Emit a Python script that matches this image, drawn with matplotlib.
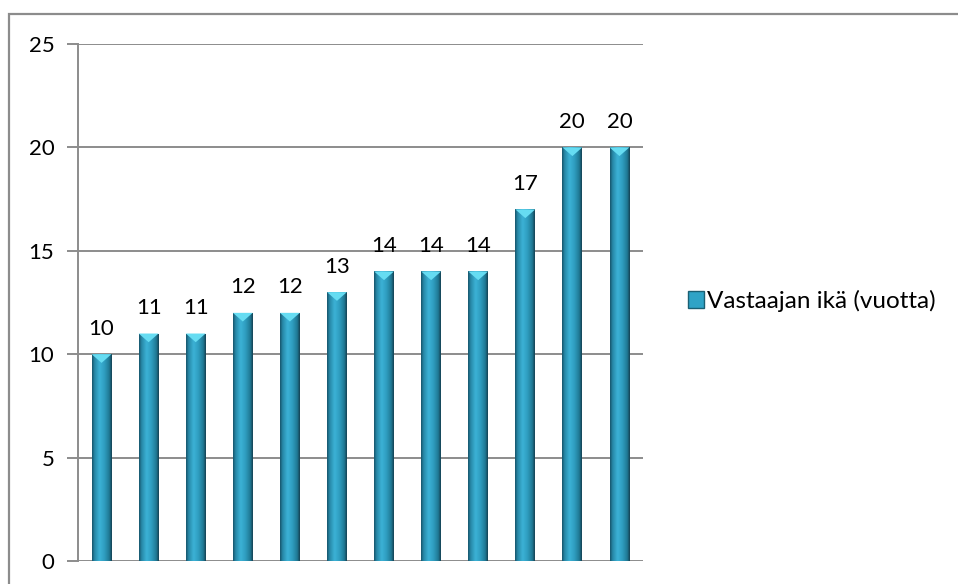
import numpy as np
import matplotlib
matplotlib.use("Agg")
import matplotlib.pyplot as plt
from matplotlib.colors import LinearSegmentedColormap
from matplotlib.patches import Polygon, Patch, Rectangle

# respondents' ages, sorted
categories = [str(i) for i in range(1, 13)]
ages = [10, 11, 11, 12, 12, 13, 14, 14, 14, 17, 20, 20]
series_name = "Vastaajan ikä (vuotta)"
yticks = [0, 5, 10, 15, 20, 25]

plt.rcParams["font.family"] = ["Lato", "DejaVu Sans"]

fig = plt.figure(figsize=(9.58, 5.84), dpi=100)
fig.patch.set_facecolor("white")

# chart-area frame, runs off the right and bottom edges
fig.add_artist(Rectangle((9 / 958, -0.1), 1.2, 1 - 14 / 584 + 0.1,
                         transform=fig.transFigure, fill=False,
                         edgecolor="#8c8c8c", linewidth=1.6))

ax = fig.add_axes([78 / 958, 1 - 561 / 584, (643 - 78) / 958, (561 - 44) / 584])
ax.set_xlim(-0.5, len(ages) - 0.5)
ax.set_ylim(0, 25)

grid = "#8c8c8c"
for v in yticks:
    ax.axhline(v, color=grid, linewidth=1.4, zorder=1)

ax.set_yticks(yticks)
ax.set_xticks([])
for s in ("top", "right", "bottom"):
    ax.spines[s].set_visible(False)
ax.spines["left"].set_color(grid)
ax.spines["left"].set_linewidth(1.4)
ax.tick_params(axis="y", length=8, width=1.4, color=grid, labelsize=16, pad=9)

# horizontal shading for the cylinder-like bars
shade = LinearSegmentedColormap.from_list("bar", [
    (0.0, "#17536a"), (0.12, "#2687a6"), (0.38, "#3cb2d6"),
    (0.62, "#2f9ec1"), (0.88, "#1f7893"), (1.0, "#143f50")])
grad = np.linspace(0, 1, 64).reshape(1, -1)

width = 0.42
x = np.arange(len(ages))
bars = ax.bar(x, ages, width=width, color="#2b98ba", edgecolor="none", zorder=2)
for rect, h in zip(bars, ages):
    x0 = rect.get_x()
    x1 = x0 + rect.get_width()
    im = ax.imshow(grad, cmap=shade, extent=(x0, x1, 0, h), aspect="auto",
                   zorder=3, interpolation="bicubic")
    im.set_clip_path(rect)
    # light bevel at the top of each bar
    tri = Polygon([(x0, h), (x1, h), ((x0 + x1) / 2, h - 0.42)],
                  closed=True, facecolor="#66dcf2", edgecolor="none", zorder=4)
    ax.add_patch(tri)
    ax.text((x0 + x1) / 2, h + 0.75, str(h), ha="center", va="bottom",
            fontsize=16, color="black", zorder=5)

ax.set_xlim(-0.5, len(ages) - 0.5)
ax.set_ylim(0, 25)

handle = Patch(facecolor="#2fa3c6", edgecolor="#1a5f73", linewidth=1)
fig.legend([handle], [series_name], loc="center left",
           bbox_to_anchor=(678 / 958, 1 - 301 / 584), frameon=False,
           fontsize=17.5, handlelength=0.65, handleheight=0.65, handletextpad=0.15,
           borderaxespad=0)

fig.savefig("out.png", dpi=100, facecolor="white")
